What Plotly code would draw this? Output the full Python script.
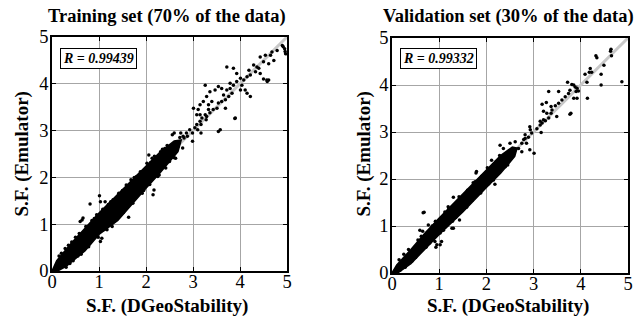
import plotly.graph_objects as go

# ---------------- data ----------------
titles = ["Training set (70% of the data)", "Validation set (30% of the data)"]
r_labels = ["R = 0.99439", "R = 0.99332"]
x_label = "S.F. (DGeoStability)"
y_label = "S.F. (Emulator)"
tick_vals = [0, 1, 2, 3, 4, 5]
diag_x = [0, 5]
diag_y = [0, 5]

# dense core of the training cloud (outline of the solid black band)
train_core_x = [0.0, 0.1, 0.4, 0.7, 1.0, 1.4, 1.7, 2.0, 2.3, 2.6, 2.75,
                2.68, 2.3, 2.0, 1.85, 1.4, 1.0, 0.7, 0.3, 0.12, 0.0]
train_core_y = [0.0, 0.22, 0.58, 0.92, 1.24, 1.64, 1.94, 2.26, 2.54, 2.78, 2.8,
                2.55, 2.1, 1.77, 1.6, 1.08, 0.78, 0.43, 0.1, 0.0, 0.0]

# individual training points
train_x = [3.72, 3.86, 3.26, 4.43, 4.54, 4.65, 4.72, 4.61, 4.50, 4.40, 4.33, 4.43, 4.22, 4.15,
           4.08, 4.01, 3.93, 3.86, 3.79, 3.83, 3.76, 3.69, 3.61, 3.54, 3.51, 3.43, 3.36, 3.33,
           3.26, 3.19, 3.15, 3.08, 3.04, 2.93, 2.86, 2.79, 2.72, 4.58, 4.61, 3.90, 3.58, 3.69,
           3.47, 3.36, 3.29, 3.22, 3.15, 3.61, 3.54, 4.01, 4.11, 4.15, 4.22, 4.04, 4.19, 4.29,
           4.36, 4.68, 4.79, 4.90, 4.95, 4.97, 3.93, 3.79, 3.72, 3.65, 3.40, 3.33, 3.29, 3.01,
           3.08, 3.11, 4.92, 4.96, 4.57, 4.50, 3.54, 3.89,
           3.15, 3.28, 3.17, 3.10, 2.99, 2.88, 2.81, 2.74, 2.60, 2.56, 2.70, 2.99, 3.17, 2.31,
           2.13, 2.06, 2.63, 2.17, 2.78,
           1.01, 0.81, 0.66, 0.60, 1.03, 1.13, 1.63, 1.03, 1.06, 1.17, 1.28, 1.39, 0.64, 2.15,
           0.2, 0.35, 0.5, 0.85, 1.2, 1.5, 1.8, 2.1, 2.4, 0.45, 0.8, 1.1, 1.6, 1.95, 2.25, 2.5,
           0.9, 1.3, 1.75, 2.2, 0.3, 0.55, 2.45, 2.55,
           0.15, 0.28, 0.42, 0.58, 0.72, 0.95, 1.08, 1.25, 1.42, 1.58, 1.68, 1.88, 2.02, 2.18,
           2.35, 0.38, 0.62, 0.78, 0.98, 1.15, 1.35, 1.52, 1.72, 1.92, 2.08, 2.28, 2.42, 2.6]
train_y = [4.36, 4.33, 3.97, 4.57, 4.61, 4.61, 4.50, 4.43, 4.47, 4.33, 4.26, 4.22, 4.19, 4.15,
           4.08, 4.12, 4.05, 3.97, 3.90, 3.80, 3.73, 3.66, 3.62, 3.59, 3.48, 3.45, 3.38, 3.45,
           3.34, 3.27, 3.20, 3.13, 3.06, 3.02, 2.95, 2.88, 2.85, 4.05, 4.08, 3.27, 3.02, 3.48,
           3.87, 3.83, 3.73, 3.62, 3.55, 3.90, 3.94, 3.87, 3.87, 3.80, 3.73, 3.97, 4.29, 4.40,
           4.36, 4.68, 4.71, 4.82, 4.75, 4.64, 4.22, 4.01, 3.87, 3.76, 3.62, 3.55, 3.30, 3.48,
           3.34, 3.45, 4.79, 4.69, 4.08, 4.10, 2.98, 3.26,
           3.34, 3.23, 3.13, 3.02, 2.95, 2.88, 2.84, 2.95, 2.95, 2.91, 2.73, 2.77, 2.95, 2.55,
           2.41, 2.48, 2.41, 1.73, 2.63,
           1.61, 1.43, 1.13, 1.06, 1.48, 1.48, 1.15, 0.63, 0.70, 0.88, 0.95, 1.16, 1.09, 1.63,
           0.38, 0.55, 0.72, 1.08, 1.42, 1.72, 2.02, 2.32, 2.62, 0.22, 0.58, 0.88, 1.38, 1.72,
           2.02, 2.34, 1.12, 1.52, 2.0, 2.42, 0.08, 0.32, 2.68, 2.5,
           0.32, 0.48, 0.62, 0.8, 0.95, 1.2, 1.32, 1.48, 1.66, 1.84, 1.95, 2.12, 2.3, 2.45,
           2.6, 0.16, 0.36, 0.52, 0.72, 0.9, 1.08, 1.25, 1.45, 1.66, 1.85, 2.05, 2.2, 2.42]

# dense core of the validation cloud
valid_core_x = [0.0, 0.1, 0.4, 0.7, 1.0, 1.5, 2.0, 2.3, 2.55, 2.65,
                2.6, 2.3, 2.0, 1.5, 1.0, 0.7, 0.4, 0.12, 0.0]
valid_core_y = [0.0, 0.17, 0.5, 0.85, 1.17, 1.68, 2.2, 2.5, 2.68, 2.66,
                2.48, 2.12, 1.82, 1.3, 0.82, 0.5, 0.2, 0.0, 0.0]

# individual validation points
valid_x = [4.63, 4.34, 4.65, 4.49, 4.20, 4.18, 4.23, 4.09, 4.43, 4.43, 4.87, 4.13, 3.72, 3.81,
           3.85, 3.88, 3.92, 3.95, 3.90, 3.85, 3.92, 4.14, 3.77, 3.74, 3.67, 3.60, 3.53, 3.46,
           3.39, 3.32, 3.53, 3.18, 3.27, 3.37, 3.21, 3.28, 3.37, 3.49, 3.32, 3.25, 3.18, 3.14,
           3.77, 3.07, 2.93, 2.96, 2.89, 2.82, 2.79, 4.64, 4.32, 3.79, 3.16,
           3.21, 3.14, 2.92, 2.82, 2.75, 2.85, 2.92, 3.01, 2.61, 2.50, 2.29, 2.36, 2.68, 2.75,
           2.11, 2.15, 1.79, 1.76,
           0.66, 0.77, 0.59, 1.30, 1.19, 1.05, 1.02, 0.95, 0.91, 1.09, 1.30, 0.17, 0.28, 0.65,
           0.68, 1.78, 2.18, 0.93, 1.27, 1.43,
           0.25, 0.55, 0.85, 1.2, 1.6, 1.9, 2.2, 0.5, 0.8, 1.35, 1.7, 2.05, 2.4,
           0.15, 0.35, 0.62, 0.92, 1.12, 1.42, 1.72, 2.02, 2.28, 0.42, 0.72, 1.02, 1.28, 1.58,
           1.88, 2.15, 2.45]
valid_y = [4.72, 4.58, 4.62, 4.42, 4.35, 4.27, 4.27, 4.23, 4.23, 4.00, 4.07, 4.06, 4.06, 4.01,
           4.00, 3.96, 3.93, 3.87, 3.86, 3.72, 3.72, 3.72, 3.89, 3.82, 3.75, 3.68, 3.61, 3.56,
           3.47, 3.86, 3.86, 3.59, 3.63, 3.54, 3.44, 3.40, 3.40, 3.33, 3.30, 3.24, 3.19, 3.23,
           3.38, 3.07, 3.05, 2.98, 2.89, 2.86, 2.84, 4.76, 4.62, 3.40, 2.99,
           3.26, 3.15, 3.11, 2.94, 2.76, 2.76, 2.62, 2.55, 2.79, 2.76, 2.72, 2.65, 2.65, 2.58,
           2.40, 2.01, 2.16, 1.94,
           1.28, 1.02, 0.91, 1.61, 1.41, 0.67, 0.60, 0.60, 0.67, 0.91, 0.95, 0.06, 0.12, 0.89,
           1.29, 2.13, 1.89, 0.55, 0.95, 1.13,
           0.4, 0.7, 1.0, 1.36, 1.76, 2.06, 2.36, 0.33, 0.64, 1.18, 1.55, 1.9, 2.26,
           0.28, 0.5, 0.78, 1.1, 1.3, 1.62, 1.92, 2.24, 2.5, 0.25, 0.55, 0.85, 1.1, 1.4,
           1.7, 1.98, 2.3]

# ---------------- figure ----------------
FONT = "Liberation Serif"
fig = go.Figure()

panels = [
    (train_core_x, train_core_y, train_x, train_y, "x", "y"),
    (valid_core_x, valid_core_y, valid_x, valid_y, "x2", "y2"),
]
for cx, cy, px, py, xa, ya in panels:
    fig.add_trace(go.Scatter(x=diag_x, y=diag_y, mode="lines", xaxis=xa, yaxis=ya,
                             line=dict(color="#c8c8c8", width=3), hoverinfo="skip",
                             showlegend=False))
    fig.add_trace(go.Scatter(x=cx, y=cy, mode="lines", fill="toself", fillcolor="black",
                             line=dict(color="black", width=1.5), xaxis=xa, yaxis=ya,
                             showlegend=False))
    fig.add_trace(go.Scatter(x=px, y=py, mode="markers", xaxis=xa, yaxis=ya,
                             marker=dict(color="black", size=3.5), showlegend=False))

axis_common = dict(
    range=[0, 5], tickvals=tick_vals, ticks="inside", ticklen=4, tickcolor="black",
    showline=True, linecolor="black", linewidth=1.5, mirror="ticks",
    showgrid=True, gridcolor="#a6a6a6", gridwidth=1, zeroline=False, automargin=False,
    tickfont=dict(family=FONT, size=18.5, color="black"), fixedrange=True,
)
xax = dict(ticklabelstandoff=-7, **axis_common)
yax = dict(ticklabelstandoff=-2, **axis_common)
fig.update_layout(
    width=642, height=320, margin=dict(l=0, r=0, t=0, b=0, autoexpand=False),
    paper_bgcolor="white", plot_bgcolor="white",
    xaxis=dict(domain=[52 / 642, 287 / 642], anchor="y", **xax),
    yaxis=dict(domain=[49 / 320, 283 / 320], anchor="x", **yax),
    xaxis2=dict(domain=[392 / 642, 628 / 642], anchor="y2", **xax),
    yaxis2=dict(domain=[47 / 320, 282 / 320], anchor="x2", **yax),
)

anns = []
centers = [(167 / 642, 21.5 / 642, 98.5 / 642), (508 / 642, 363.5 / 642, 438 / 642)]
for i, (cxp, ylx, rx) in enumerate(centers):
    anns.append(dict(text="<b>" + titles[i] + "</b>", x=cxp, y=1 - 16 / 320, xref="paper",
                     yref="paper", showarrow=False, xanchor="center", yanchor="middle",
                     font=dict(family=FONT, size=18.5, color="black")))
    anns.append(dict(text="<b>" + x_label + "</b>", x=cxp, y=1 - 306 / 320, xref="paper",
                     yref="paper", showarrow=False, xanchor="center", yanchor="middle",
                     font=dict(family=FONT, size=19, color="black")))
    anns.append(dict(text="<b>" + y_label + "</b>", x=ylx, y=1 - 154 / 320, xref="paper",
                     yref="paper", showarrow=False, xanchor="center", yanchor="middle",
                     textangle=-90, font=dict(family=FONT, size=19, color="black")))
    anns.append(dict(text="<b><i>" + r_labels[i] + "</i></b>", x=rx, y=1 - 59 / 320,
                     xref="paper", yref="paper", showarrow=False, xanchor="center",
                     yanchor="middle", bgcolor="white", bordercolor="black", borderwidth=1,
                     borderpad=2, font=dict(family=FONT, size=14, color="black")))
fig.update_layout(annotations=anns)

fig.write_html("out.html", config={"displayModeBar": False},
               post_script="document.body.style.margin='0';"
                           "document.body.style.overflow='hidden';")
